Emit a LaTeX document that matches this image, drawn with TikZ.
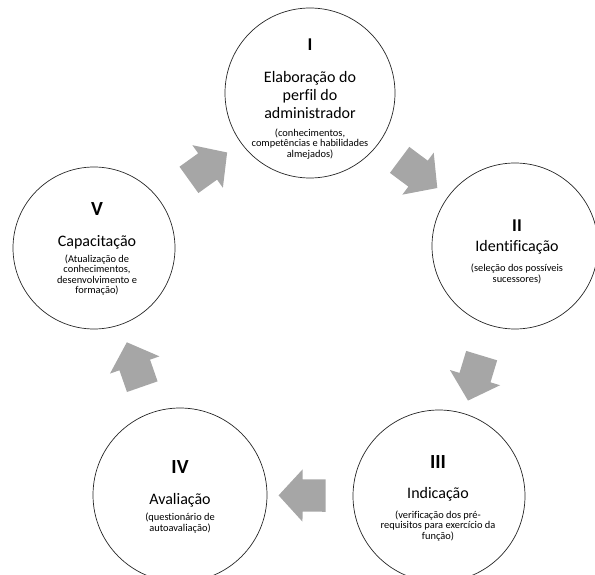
\documentclass[tikz,border=0pt]{standalone}
\usepackage{fontspec}
\setmainfont{Carlito}[Ligatures=NoCommon]
\usetikzlibrary{shapes.arrows,calc}
\definecolor{arrowgray}{HTML}{A6A6A6}
\tikzset{
  ring/.style={circle, draw=black!85, line width=0.7pt, inner sep=0pt},
  numtxt/.style={inner sep=0pt, font=\bfseries\fontsize{20}{22}\selectfont},
  numsmall/.style={inner sep=0pt, font=\bfseries\fontsize{18}{20}\selectfont},
  titletxt/.style={inner sep=0pt, align=center, font=\fontsize{16}{18}\selectfont},
  desctxt/.style={inner sep=0pt, align=center, font=\fontsize{10.4}{10.6}\selectfont},
  blockarrow/.style={single arrow, fill=arrowgray, draw=none,
    inner xsep=0pt, inner ysep=16pt, text height=0pt, text depth=0pt,
    minimum height=47pt, single arrow head extend=10pt,
    single arrow tip angle=95}
}
\begin{document}
\begin{tikzpicture}[x=1pt,y=-1pt]
\useasboundingbox (0,0) rectangle (595,575);
\clip (0,0) rectangle (595,575);
% circles
\node[ring, minimum size=170pt] (c1) at (310,93) {};
\node[ring, minimum size=166pt] (c2) at (515,246) {};
\node[ring, minimum size=172pt] (c3) at (439,496) {};
\node[ring, minimum size=174pt] (c4) at (180,495) {};
\node[ring, minimum size=162pt] (c5) at (94,248) {};
% texts circle I
\node[numsmall] (n1) at (310,45) {I};
\node[titletxt] (h1) at (310,95) {Elaboração do\\perfil do\\administrador};
\node[desctxt] (d1) at (310,144) {(conhecimentos,\\competências e habilidades\\almejados)};
% circle II
\node[numsmall] (n2) at (517,226) {II};
\node[titletxt] (h2) at (517,247) {Identificação};
\node[desctxt] (d2) at (517,274) {(seleção dos possíveis\\sucessores)};
% circle III
\node[numtxt] (n3) at (438,462) {III};
\node[titletxt] (h3) at (438,494) {Indicação};
\node[desctxt] (d3) at (438,526) {(verificação dos pré-\\requisitos para exercício da\\função)};
% circle IV
\node[numtxt] (n4) at (180,467) {IV};
\node[titletxt] (h4) at (180,500) {Avaliação};
\node[desctxt] (d4) at (180,523) {(questionário de\\autoavaliação)};
% circle V
\node[numtxt] (n5) at (97,209) {V};
\node[titletxt] (h5) at (97,242) {Capacitação};
\node[desctxt] (d5) at (97,275) {(Atualização de\\conhecimentos,\\desenvolvimento e\\formação)};
% block arrows
\path let \p1=($(c2)-(c1)$), \n1={atan2(\y1,\x1)} in
  node[blockarrow, rotate=\n1] (a12) at ($(c1)!0.5!(c2)$) {};
\path let \p1=($(c3)-(c2)$), \n1={atan2(\y1,\x1)} in
  node[blockarrow, rotate=\n1] (a23) at ($(c2)!0.5!(c3)$) {};
\path let \p1=($(c4)-(c3)$), \n1={atan2(\y1,\x1)} in
  node[blockarrow, rotate=\n1] (a34) at ($(c3)!0.5!(c4)$) {};
\path let \p1=($(c5)-(c4)$), \n1={atan2(\y1,\x1)} in
  node[blockarrow, rotate=\n1] (a45) at ($(c4)!0.5!(c5)$) {};
\path let \p1=($(c1)-(c5)$), \n1={atan2(\y1,\x1)} in
  node[blockarrow, rotate=\n1] (a51) at ($(c5)!0.5!(c1)$) {};
\end{tikzpicture}
\end{document}
